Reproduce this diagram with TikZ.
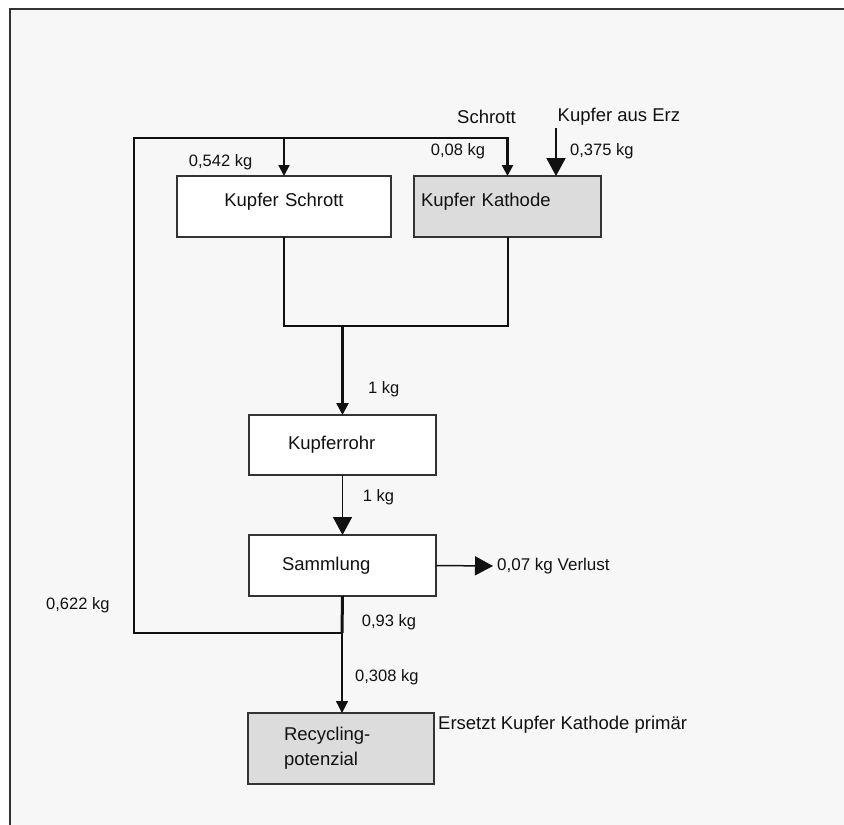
\documentclass[tikz,border=0pt]{standalone}
\usepackage{fontspec}
\setmainfont{Liberation Sans}
\usetikzlibrary{arrows.meta}
\definecolor{bg}{HTML}{F7F7F7}
\definecolor{boxgray}{HTML}{DCDCDC}
\definecolor{ink}{HTML}{111111}
\definecolor{framec}{HTML}{333333}
\newcommand\mybigfont{\fontsize{18.5}{25}\selectfont}
\newcommand\mysmallfont{\fontsize{16.5}{20}\selectfont}
\begin{document}
\begin{tikzpicture}[x=1pt,y=-1pt,
  box/.style={draw=framec, line width=1.3pt, inner ysep=0pt, outer sep=0pt, font=\mybigfont, text=ink},
  lbl/.style={inner sep=0pt, font=\mysmallfont, text=ink, anchor=west},
  txt/.style={inner sep=0pt, font=\mybigfont, text=ink, anchor=west},
  smallhead/.style={-{Triangle[width=11pt,length=11pt]}},
  bighead/.style={-{Triangle[width=19pt,length=18pt]}},
  conn/.style={draw=ink, line join=miter}
]
\useasboundingbox (0,0) rectangle (844,825);
\fill[white] (0,0) rectangle (844,825);
\fill[bg] (10,9) rectangle (844,825);
\draw[framec, line width=2pt] (10,825) -- (10,9) -- (844,9);

% boxes
\node[box, fill=white, minimum width=214pt, minimum height=61pt, text width=200pt, inner xsep=7pt, align=center, text height=13.5pt, text depth=13pt] (schrott) at (284,206.5) {Kupfer Schrott};
\node[box, fill=boxgray, minimum width=187pt, minimum height=61pt, text width=173pt, inner xsep=7pt, align=left, text height=13.5pt, text depth=13pt] (kath) at (507.5,206.5) {Kupfer Kathode};
\node[box, fill=white, minimum width=187pt, minimum height=60pt, text width=109pt, inner xsep=39pt, align=left] (rohr) at (342.5,445) {Kupferrohr};
\node[box, fill=white, minimum width=187pt, minimum height=61pt, text width=121pt, inner xsep=33pt, align=left] (samm) at (342.5,565.5) {Sammlung};
\node[box, fill=boxgray, minimum width=186pt, minimum height=71pt, text width=114pt, inner xsep=36pt, align=left] (recy) at (341,748.5) {Recycling-\\potenzial};

% coordinates
\coordinate (j2) at (342,633);
\coordinate (tl) at (134,138);
\coordinate (jy) at (0,326);
\coordinate (erz) at (556,128);
\coordinate (loss) at (493,566);

% loop
\draw[conn, line width=3pt] (samm.south) -- (j2);
\draw[conn, line width=2.6pt, smallhead] (j2) -| (tl) -| (kath.north);
\draw[conn, line width=2pt, smallhead] (schrott.north |- tl) -- (schrott.north);
% ore
\draw[conn, line width=2pt, bighead] (erz) -- (erz |- kath.north);
% junction
\draw[conn, line width=2pt] (schrott.south) -- (schrott.south |- jy) -- (kath.south |- jy) -- (kath.south);
\draw[conn, line width=2.5pt, -{Triangle[width=12pt,length=12pt]}] (rohr.north |- jy) -- (rohr.north);
\draw[conn, line width=1.5pt, bighead] (rohr.south) -- (samm.north);
\draw[conn, line width=1.5pt, bighead] (samm.east) -- (loss);
\draw[conn, line width=1.2pt, -{Triangle[width=12pt,length=12pt]}] (j2) -- (j2 |- recy.north);

% labels
\node[txt, anchor=center] (tschrott) at (486.5,117) {Schrott};
\node[txt] (terz) at (557.5,117) {Kupfer aus Erz};
\node[lbl] (l542) at (188.7,162) {0,542 kg};
\node[lbl] (l008) at (430.7,151) {0,08 kg};
\node[lbl] (l375) at (570,151) {0,375 kg};
\node[lbl] (l1a) at (368,389) {1 kg};
\node[lbl] (l1b) at (362.7,497) {1 kg};
\node[lbl, font=\fontsize{17}{20}\selectfont] (lverl) at (497,566) {0,07 kg Verlust};
\node[lbl] (l093) at (361.7,622) {0,93 kg};
\node[lbl] (l622) at (46,605) {0,622 kg};
\node[lbl] (l308) at (355,677) {0,308 kg};
\node[txt] (lers) at (438,725) {Ersetzt Kupfer Kathode primär};
\end{tikzpicture}
\end{document}
